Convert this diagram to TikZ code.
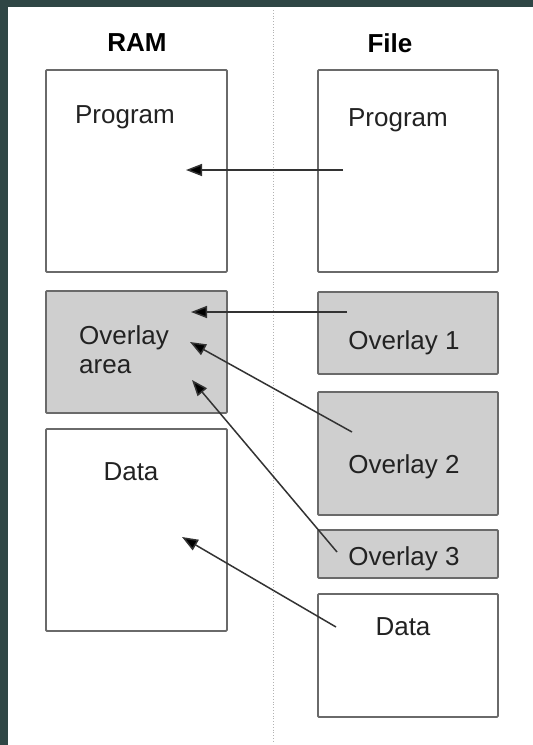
\documentclass[tikz,border=0pt]{standalone}
\usepackage{fontspec}
\setmainfont{Liberation Sans}
\usetikzlibrary{arrows.meta}
\definecolor{bgdark}{HTML}{2F4645}
\definecolor{boxline}{HTML}{6A6A6A}
\definecolor{ovfill}{HTML}{CFCFCF}
\definecolor{arrcol}{HTML}{333333}
\definecolor{txtcol}{HTML}{222222}
\tikzset{
  memblock/.style={draw=boxline, line width=1.8pt, rounded corners=1pt, anchor=north west, inner sep=0pt, minimum width=181pt},
  ovblock/.style={memblock, fill=ovfill},
  lbl/.style={font=\fontsize{26}{29}\selectfont, text=txtcol, inner sep=0pt},
  hdr/.style={font=\fontsize{26}{29}\selectfont\bfseries, text=black, inner sep=0pt},
  arr/.style={draw=arrcol, line width=1.5pt, -{Triangle[length=16pt,width=12pt,fill=black]}},
}
\begin{document}
\begin{tikzpicture}[x=1pt,y=-1pt]
\useasboundingbox (0,0) rectangle (533,745);
\fill[bgdark] (0,0) rectangle (533,745);
\fill[white] (8,7) rectangle (533,745);
\coordinate (divtop) at (273,10);
\coordinate (divbot) at (273,742);
\draw[gray!60, line width=0.8pt, dotted] (divtop) -- (divbot);
% headers
\node[hdr] (ramhdr) at (137,43) {RAM};
\node[hdr] (filehdr) at (390,43) {File};
% RAM blocks
\node[memblock, minimum height=202pt] (rprog) at (45,69) {};
\node[ovblock, minimum height=122pt] (rover) at (45,290) {};
\node[memblock, minimum height=202pt] (rdata) at (45,428) {};
% File blocks
\node[memblock, minimum width=180pt, minimum height=202pt] (fprog) at (317,69) {};
\node[ovblock, minimum width=180pt, minimum height=82pt] (fov1) at (317,291) {};
\node[ovblock, minimum width=180pt, minimum height=123pt] (fov2) at (317,391) {};
\node[ovblock, minimum width=180pt, minimum height=48pt] (fov3) at (317,529) {};
\node[memblock, minimum width=180pt, minimum height=123pt] (fdata) at (317,593) {};
% labels
\node[lbl] (trprog) at (125,117) {Program};
\node[lbl, anchor=west, align=left] (trover) at (79,350) {Overlay\\area};
\node[lbl] (trdata) at (131,472) {Data};
\node[lbl] (tfprog) at (398,120) {Program};
\node[lbl] (tfov1) at (404,343) {Overlay 1};
\node[lbl] (tfov2) at (404,467) {Overlay 2};
\node[lbl] (tfov3) at (404,559) {Overlay 3};
\node[lbl] (tfdata) at (403,627) {Data};
% arrow ends
\coordinate (a1s) at (343,170); \coordinate (a1e) at (186,170);
\coordinate (a2s) at (347,312); \coordinate (a2e) at (191,312);
\coordinate (a3s) at (352,432); \coordinate (a3e) at (190,342);
\coordinate (a4s) at (337,552); \coordinate (a4e) at (192,380);
\coordinate (a5s) at (336,627); \coordinate (a5e) at (182,537);
\draw[arr] (a1s) -- (a1e);
\draw[arr] (a2s) -- (a2e);
\draw[arr] (a3s) -- (a3e);
\draw[arr] (a4s) -- (a4e);
\draw[arr] (a5s) -- (a5e);
\end{tikzpicture}
\end{document}
